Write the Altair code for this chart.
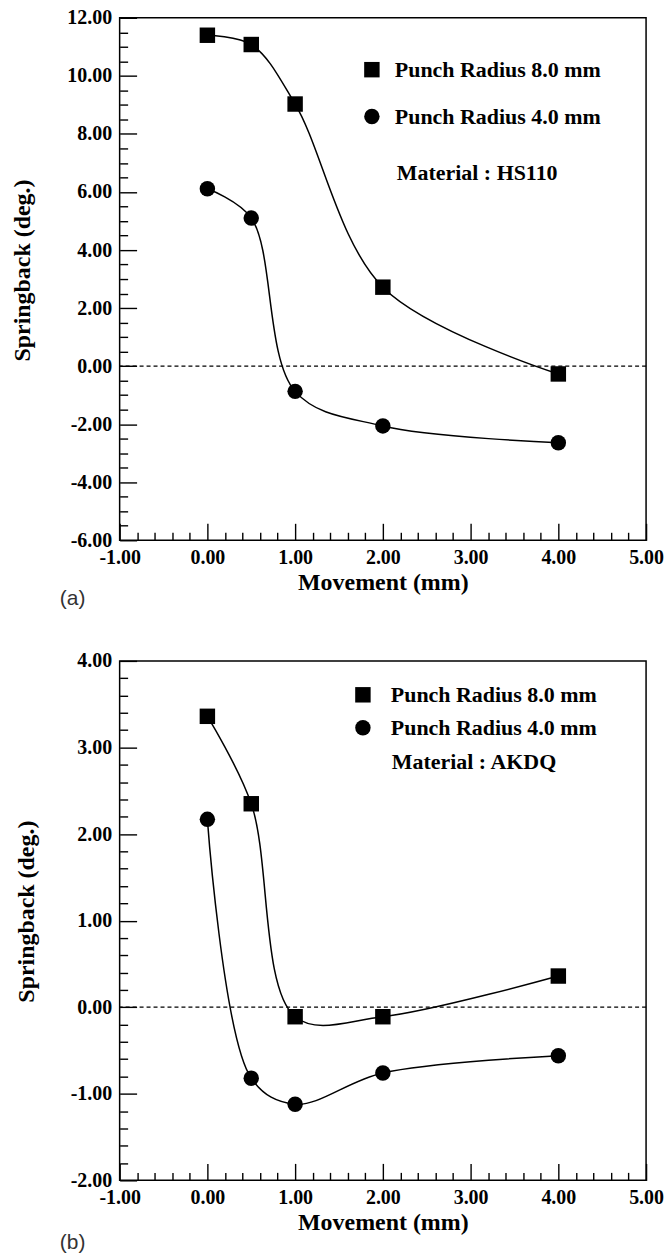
import altair as alt
import pandas as pd

# ---------------- data ----------------
movement = [0.0, 0.5, 1.0, 2.0, 4.0]
series_names = ["Punch Radius 8.0 mm", "Punch Radius 4.0 mm"]

a_r8 = [11.40, 11.08, 9.03, 2.72, -0.27]
a_r4 = [6.11, 5.10, -0.87, -2.06, -2.64]

b_r8 = [3.36, 2.35, -0.11, -0.11, 0.36]
b_r4 = [2.17, -0.82, -1.12, -0.76, -0.56]

materials = ["Material : HS110", "Material : AKDQ"]
panel_labels = ["(a)", "(b)"]

x_domain = [-1, 5]
x_major = [-1, 0, 1, 2, 3, 4, 5]
x_minor = [round(-1 + 0.2 * i, 1) for i in range(31) if i % 5 != 0]

a_y_domain = [-6, 12]
a_y_major = [-6, -4, -2, 0, 2, 4, 6, 8, 10, 12]
a_y_minor = [-6 + 0.5 * i for i in range(37) if i % 4 != 0]

b_y_domain = [-2, 4]
b_y_major = [-2, -1, 0, 1, 2, 3, 4]
b_y_minor = [round(-2 + 0.2 * i, 1) for i in range(31) if i % 5 != 0]

SERIF = "Liberation Serif"
LABEL_EXPR = "replace(format(datum.value, '.2f'), '\u2212', '-')"


def panel(r8, r4, y_domain, y_major, y_minor, material, plabel,
          width, height, legend_x, legend_y, row_pad, label_off, mat_x, mat_y,
          lab_x, lab_y, title_y):
    df = pd.DataFrame({
        "Movement": movement + movement,
        "Springback": r8 + r4,
        "Series": [series_names[0]] * len(movement) + [series_names[1]] * len(movement),
        "order": list(range(len(movement))) * 2,
    })
    xs = alt.Scale(domain=x_domain, nice=False, zero=False)
    ys = alt.Scale(domain=y_domain, nice=False, zero=False)

    main_x = alt.Axis(orient="bottom", values=x_major, labelExpr=LABEL_EXPR,
                      ticks=False, domain=False, grid=False,
                      labelFont=SERIF, labelFontWeight="bold", labelFontSize=20,
                      labelColor="black", labelPadding=7, labelFlush=False,
                      labelOverlap=False, labelBound=False,
                      title="Movement (mm)", titleFont=SERIF, titleFontSize=24,
                      titleFontWeight="bold", titleColor="black", titlePadding=3)
    main_y = alt.Axis(orient="left", values=y_major, labelExpr=LABEL_EXPR,
                      ticks=False, domain=False, grid=False,
                      labelFont=SERIF, labelFontWeight="bold", labelFontSize=20,
                      labelColor="black", labelPadding=8, labelFlush=False,
                      labelOverlap=False, labelBound=False,
                      title="Springback (deg.)", titleFont=SERIF, titleFontSize=24,
                      titleFontWeight="bold", titleColor="black", titlePadding=32,
                      titleY=title_y)

    def tick_axis(orient, vals, size):
        return alt.Axis(orient=orient, values=vals, labels=False, domain=False,
                        grid=False, ticks=True, tickSize=size, offset=-size,
                        tickColor="black", tickWidth=1.4, title=None)

    line = alt.Chart(df).mark_line(
        interpolate="catmull-rom", color="black", strokeWidth=1.5
    ).encode(
        x=alt.X("Movement:Q", scale=xs, axis=main_x),
        y=alt.Y("Springback:Q", scale=ys, axis=main_y),
        detail="Series:N",
        order="order:Q",
    )

    points = alt.Chart(df).mark_point(
        filled=True, color="black", opacity=1, size=240
    ).encode(
        x=alt.X("Movement:Q", scale=xs, axis=tick_axis("bottom", x_major, 17)),
        y=alt.Y("Springback:Q", scale=ys, axis=tick_axis("left", y_major, 17)),
        shape=alt.Shape(
            "Series:N",
            scale=alt.Scale(domain=series_names, range=["square", "circle"]),
            legend=alt.Legend(
                orient="none", legendX=legend_x, legendY=legend_y, title=None,
                labelFont=SERIF, labelFontSize=22, labelFontWeight="bold",
                labelColor="black", labelLimit=400, labelOffset=label_off,
                symbolSize=240, symbolFillColor="black", symbolStrokeColor="black",
                symbolStrokeWidth=0, symbolOpacity=1, rowPadding=row_pad, padding=0,
            ),
        ),
    )

    minor = alt.Chart(df).mark_point(opacity=0).encode(
        x=alt.X("Movement:Q", scale=xs, axis=tick_axis("bottom", x_minor, 8)),
        y=alt.Y("Springback:Q", scale=ys, axis=tick_axis("left", y_minor, 8)),
    )

    zero = alt.Chart(pd.DataFrame({"zero": [0.0]})).mark_rule(
        color="black", strokeDash=[4, 3], strokeWidth=1.2
    ).encode(y=alt.Y("zero:Q", scale=ys, axis=None))

    mat = alt.Chart(pd.DataFrame({"t": [material]})).mark_text(
        align="left", baseline="middle", font=SERIF, fontSize=22,
        fontWeight="bold", color="black"
    ).encode(text="t:N", x=alt.value(mat_x), y=alt.value(mat_y))

    lab = alt.Chart(pd.DataFrame({"t": [plabel]})).mark_text(
        align="left", baseline="middle", font="Liberation Sans", fontSize=21,
        color="#333333"
    ).encode(text="t:N", x=alt.value(lab_x), y=alt.value(lab_y))

    return alt.layer(line, points, minor, zero, mat, lab).resolve_axis(
        x="independent", y="independent"
    ).properties(width=width, height=height)


pa = panel(a_r8, a_r4, a_y_domain, a_y_major, a_y_minor, materials[0], panel_labels[0],
           528, 524, 242, 41, 25, 12, 278, 156, -60, 583, 253)
pb = panel(b_r8, b_r4, b_y_domain, b_y_major, b_y_minor, materials[1], panel_labels[1],
           528, 521, 233, 23, 11, 17, 273, 101, -60, 584, 251)

chart = alt.vconcat(pa, pb, spacing=40).resolve_scale(
    x="independent", y="independent", shape="independent"
).resolve_legend(shape="independent").properties(
    padding={"left": 10, "top": 5, "right": 5, "bottom": 2},
    background="white",
).configure_view(stroke="black", strokeWidth=1.5)

chart.save("out.html", embed_options={"renderer": "svg", "actions": False})
